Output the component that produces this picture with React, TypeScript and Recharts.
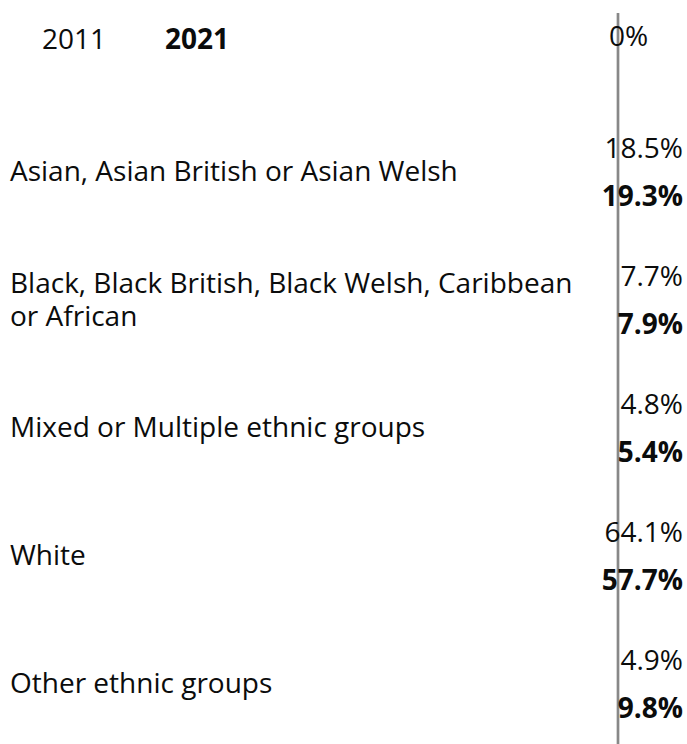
import { BarChart, Bar, XAxis, YAxis, Legend, LabelList } from "recharts";

const groups = [
  "Asian, Asian British or Asian Welsh",
  "Black, Black British, Black Welsh, Caribbean or African",
  "Mixed or Multiple ethnic groups",
  "White",
  "Other ethnic groups",
];
const share2011 = [18.5, 7.7, 4.8, 64.1, 4.9];
const share2021 = [19.3, 7.9, 5.4, 57.7, 9.8];
const xTicks = [0];

const data = groups.map((group, i) => ({
  group,
  y2011: share2011[i],
  y2021: share2021[i],
}));

const FONT = "'Open Sans', sans-serif";
const TEXT = "#0b0c0c";
const AXIS = "#888888";
const LABEL_WIDTH = 580;
const LINE_H = 33;

const fmt = (v: number) => `${v.toFixed(1)}%`;

let ctx: CanvasRenderingContext2D | null = null;
function wrap(label: string): string[] {
  if (!ctx) {
    ctx = document.createElement("canvas").getContext("2d");
    if (ctx) ctx.font = "28px 'Open Sans'";
  }
  const words = label.split(" ");
  const lines: string[] = [];
  let cur = "";
  for (const w of words) {
    const next = cur ? `${cur} ${w}` : w;
    if (cur && ctx && ctx.measureText(next).width > LABEL_WIDTH) {
      lines.push(cur);
      cur = w;
    } else {
      cur = next;
    }
  }
  if (cur) lines.push(cur);
  return lines;
}

function GroupTick({ y, payload }: any) {
  const lines = wrap(String(payload.value));
  const first = y + 9 - ((lines.length - 1) * LINE_H) / 2;
  return (
    <text x={10} y={first} textAnchor="start" fill={TEXT} fontSize={28} fontFamily={FONT}>
      {lines.map((l, i) => (
        <tspan key={i} x={10} dy={i === 0 ? 0 : LINE_H}>
          {l}
        </tspan>
      ))}
    </text>
  );
}

function ZeroTick({ x, payload }: any) {
  return (
    <text x={x - 9} y={46} textAnchor="start" fill={TEXT} fontSize={28} fontFamily={FONT}>
      {payload.value}%
    </text>
  );
}

function valueLabel(bold: boolean) {
  return (props: any) => {
    const { y, height, value } = props;
    return (
      <text
        x={683}
        y={y + height / 2 + 10}
        textAnchor="end"
        fill={TEXT}
        fontSize={28}
        fontFamily={FONT}
        fontWeight={bold ? 700 : 400}
      >
        {fmt(value)}
      </text>
    );
  };
}

function Header() {
  return (
    <div style={{ position: "relative", height: 40, fontFamily: FONT, fontSize: 28, color: TEXT }}>
      <span style={{ position: "absolute", left: 42, top: 0 }}>2011</span>
      <span style={{ position: "absolute", left: 165, top: 0, fontWeight: 700 }}>2021</span>
    </div>
  );
}

export default function App() {
  return (
    <div style={{ position: "absolute", left: 0, top: 0, width: 687, height: 744, overflow: "hidden", background: "#fff" }}>
      <BarChart
        width={687}
        height={748}
        data={data}
        layout="vertical"
        margin={{ top: 12, right: 68, bottom: 0, left: 0 }}
        barSize={42}
        barGap={6}
        style={{ fontFamily: FONT }}
      >
        <XAxis
          type="number"
          orientation="top"
          domain={[0, 100]}
          ticks={xTicks}
          interval={0}
          height={1}
          tickSize={0}
          tickMargin={0}
          axisLine={false}
          tickLine={false}
          tick={<ZeroTick />}
        />
        <YAxis
          type="category"
          dataKey="group"
          width={618}
          interval={0}
          padding={{ top: 95, bottom: 0 }}
          axisLine={{ stroke: AXIS, strokeWidth: 2.7 }}
          tickLine={false}
          tick={<GroupTick />}
        />
        <Legend
          layout="horizontal"
          verticalAlign="middle"
          align="center"
          wrapperStyle={{ top: 19, left: 0, width: 300 }}
          content={() => <Header />}
        />
        <Bar dataKey="y2011" name="2011" fill={AXIS} isAnimationActive={false}>
          <LabelList dataKey="y2011" content={valueLabel(false)} />
        </Bar>
        <Bar dataKey="y2021" name="2021" fill={AXIS} isAnimationActive={false}>
          <LabelList dataKey="y2021" content={valueLabel(true)} />
        </Bar>
      </BarChart>
    </div>
  );
}
